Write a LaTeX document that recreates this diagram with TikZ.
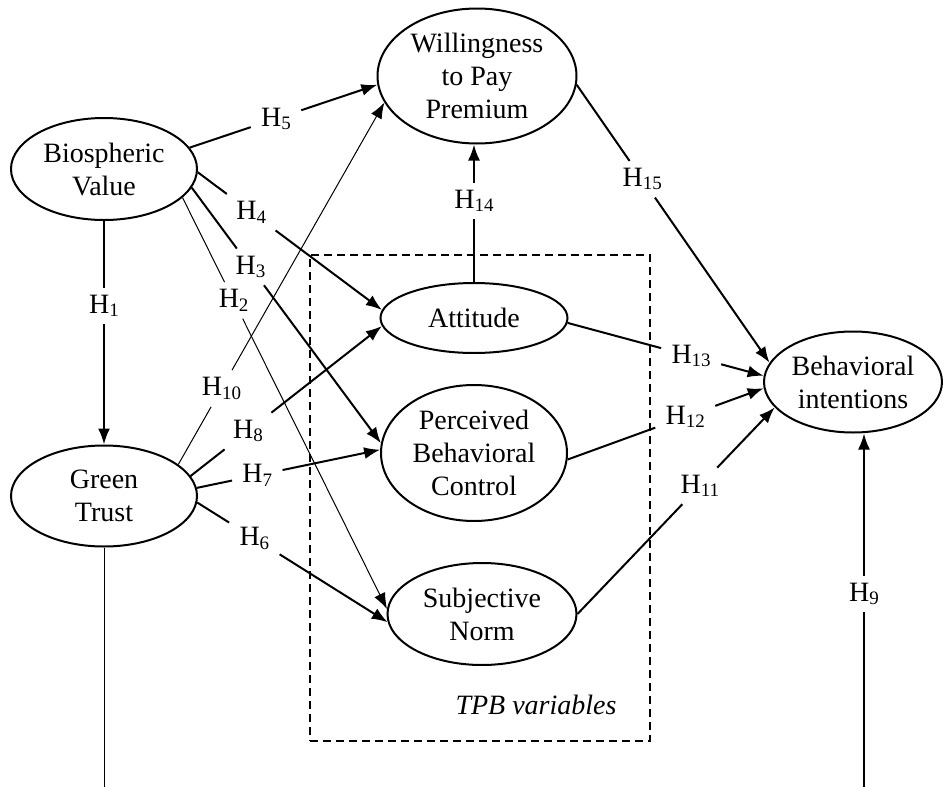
\documentclass[tikz,border=0pt]{standalone}
\usepackage{fontspec}
\setmainfont{Liberation Serif}
\usetikzlibrary{shapes.geometric,arrows.meta}
\newcommand\hyp[1]{H\raisebox{-0.12em}{\fontsize{9.5}{9.5}\selectfont #1}}
\begin{document}
\begin{tikzpicture}[x=0.5pt,y=-0.5pt,
  every node/.style={font=\fontsize{14}{16.5}\selectfont},
  var/.style={ellipse,draw,line width=1pt,inner sep=0pt,align=center},
  lab/.style={inner xsep=5pt,inner ysep=3.5pt},
  con/.style={line width=1pt},
  thincon/.style={line width=0.5pt},
  arr/.style={-{Latex[length=8pt,width=6pt]}},
  tpbbox/.style={draw,line width=0.9pt,dash pattern=on 4pt off 2.5pt,inner sep=0pt}
]
\useasboundingbox (0,0) rectangle (943,787);
% variables
\node[var,minimum width=93pt,minimum height=51pt] (bio) at (104,169) {Biospheric\\Value};
\node[var,minimum width=93pt,minimum height=50.5pt] (gt) at (104,496) {Green\\Trust};
\node[var,minimum width=99.5pt,minimum height=67.5pt] (wil) at (477,76) {Willingness\\to Pay\\Premium};
\node[var,minimum width=93.5pt,minimum height=35pt] (att) at (474,318) {Attitude};
\node[var,minimum width=93pt,minimum height=68pt] (pbc) at (474,453) {Perceived\\Behavioral\\Control};
\node[var,minimum width=94.5pt,minimum height=51pt] (sn) at (482,614) {Subjective\\Norm};
\node[var,minimum width=89pt,minimum height=50.5pt] (bi) at (853,382) {Behavioral\\intentions};
% TPB box
\node[tpbbox,minimum width=170pt,minimum height=243pt] (tpb) at (480,498) {};
\node[font=\fontsize{14}{16.5}\selectfont\itshape] (tpbl) at (536,705) {TPB variables};
% free ends at the bottom edge
\coordinate (gtb) at (104,787);
\coordinate (h9b) at (864,787);
% H1
\path (bio.south) -- node[lab,pos=0.38] (h1) {\hyp{1}} (gt.north);
\draw[con] (bio.south) -- (h1);
\draw[con,arr] (h1) -- (gt.north);
% H5
\path (bio.14) -- node[lab,pos=0.46] (h5) {\hyp{5}} (wil.185);
\draw[con] (bio.14) -- (h5);
\draw[con,arr] (h5) -- (wil.185);
% H4
\path (bio.-2) -- node[lab,pos=0.29] (h4) {\hyp{4}} (att.175);
\draw[con] (bio.-2) -- (h4);
\draw[con,arr] (h4) -- (att.175);
% H3
\path (bio.-12) -- node[lab,pos=0.31] (h3) {\hyp{3}} (pbc.174);
\draw[con] (bio.-12) -- (h3);
\draw[con,arr] (h3) -- (pbc.174);
% H2
\path (bio.-20) -- node[lab,pos=0.25] (h2) {\hyp{2}} (sn.177);
\draw[thincon] (bio.-20) -- (h2);
\draw[thincon,arr] (h2) -- (sn.177);
% H10
\path (gt.23) -- node[lab,pos=0.21] (h10) {\hyp{10}} (wil.196);
\draw[thincon] (gt.23) -- (h10);
\draw[thincon,arr] (h10) -- (wil.196);
% H8
\path (gt.13) -- node[lab,pos=0.30] (h8) {\hyp{8}} (att.185);
\draw[con] (gt.13) -- (h8);
\draw[con,arr] (h8) -- (att.185);
% H7
\path (gt.5) -- node[lab,pos=0.33] (h7) {\hyp{7}} (pbc.178);
\draw[con] (gt.5) -- (h7);
\draw[con,arr] (h7) -- (pbc.178);
% H6
\path (gt.-4) -- node[lab,pos=0.30] (h6) {\hyp{6}} (sn.185);
\draw[con] (gt.-4) -- (h6);
\draw[con,arr] (h6) -- (sn.185);
% H14
\path (att.north) -- node[lab,pos=0.59] (h14) {\hyp{14}} (att.north |- wil.south);
\draw[con] (att.north) -- (h14);
\draw[con,arr] (h14) -- (att.north |- wil.south);
% H13
\path (att.-3) -- node[lab,pos=0.63] (h13) {\hyp{13}} (bi.176);
\draw[con] (att.-3) -- (h13);
\draw[con,arr] (h13) -- (bi.176);
% H12
\path (pbc.-4) -- node[lab,pos=0.60] (h12) {\hyp{12}} (bi.184);
\draw[con] (pbc.-4) -- (h12);
\draw[con,arr] (h12) -- (bi.184);
% H11
\path (sn.0) -- node[lab,pos=0.62] (h11) {\hyp{11}} (bi.198);
\draw[con] (sn.0) -- (h11);
\draw[con,arr] (h11) -- (bi.198);
% H15
\path (wil.-5) -- node[lab,pos=0.34] (h15) {\hyp{15}} (bi.167);
\draw[con] (wil.-5) -- (h15);
\draw[con,arr] (h15) -- (bi.167);
% H9
\path (h9b) -- node[lab,pos=0.546] (h9) {\hyp{9}} (h9b |- bi.south);
\draw[con] (h9b) -- (h9);
\draw[con,arr] (h9) -- (h9b |- bi.south);
% line down from Green Trust
\draw[thincon] (gt.south) -- (gtb);
\end{tikzpicture}
\end{document}
